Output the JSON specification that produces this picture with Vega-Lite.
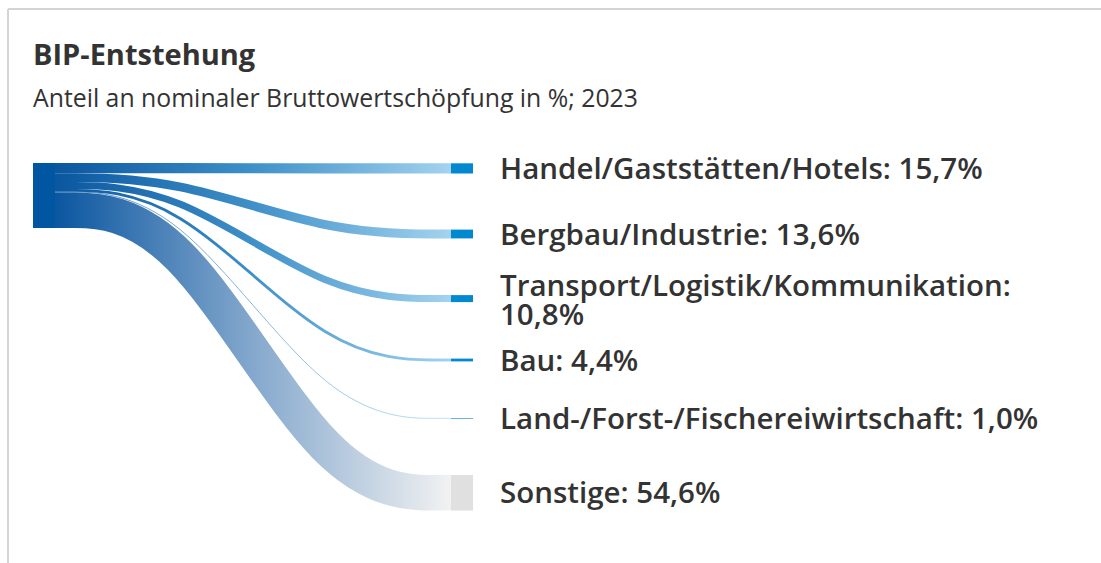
{
  "$schema": "https://vega.github.io/schema/vega-lite/v6.json",
  "width": 1101,
  "height": 433,
  "autosize": {"type": "none"},
  "padding": {"left": 0, "top": 130, "right": 0, "bottom": 0},
  "background": "#ffffff",
  "title": {
    "text": "BIP-Entstehung",
    "subtitle": "Anteil an nominaler Bruttowertschöpfung in %; 2023",
    "anchor": "start",
    "frame": "group",
    "orient": "top",
    "dx": 33,
    "dy": 104,
    "offset": 0,
    "font": "Open Sans",
    "fontSize": 29,
    "fontWeight": 700,
    "color": "#333333",
    "subtitleFont": "Open Sans",
    "subtitleFontSize": 24.8,
    "subtitleFontWeight": 400,
    "subtitleColor": "#333333",
    "subtitlePadding": 16
  },
  "config": {"view": {"stroke": null}},
  "datasets": {
    "frame": [
      {"x": 8, "y": 9, "x2": 1101, "y2": 9},
      {"x": 8, "y": 9, "x2": 8, "y2": 563}
    ],
    "source": [
      {"name": "BIP", "share": 100, "x": 33, "x2": 55, "y": 163, "y2": 228}
    ],
    "flows": [
      {"flow": "Handel", "share": 15.7, "k": 0, "x": 55, "y": 168.1},
      {"flow": "Handel", "share": 15.7, "k": 1, "x": 174, "y": 168.1},
      {"flow": "Handel", "share": 15.7, "k": 2, "x": 332, "y": 168.4},
      {"flow": "Handel", "share": 15.7, "k": 3, "x": 451, "y": 168.4},
      {"flow": "Bergbau", "share": 13.6, "k": 0, "x": 55, "y": 177.6},
      {"flow": "Bergbau", "share": 13.6, "k": 1, "x": 174, "y": 177.6},
      {"flow": "Bergbau", "share": 13.6, "k": 2, "x": 332, "y": 234.0},
      {"flow": "Bergbau", "share": 13.6, "k": 3, "x": 451, "y": 234.0},
      {"flow": "Transport", "share": 10.8, "k": 0, "x": 55, "y": 185.5},
      {"flow": "Transport", "share": 10.8, "k": 1, "x": 174, "y": 185.5},
      {"flow": "Transport", "share": 10.8, "k": 2, "x": 332, "y": 298.6},
      {"flow": "Transport", "share": 10.8, "k": 3, "x": 451, "y": 298.6},
      {"flow": "Bau", "share": 4.4, "k": 0, "x": 55, "y": 190.4},
      {"flow": "Bau", "share": 4.4, "k": 1, "x": 174, "y": 190.4},
      {"flow": "Bau", "share": 4.4, "k": 2, "x": 332, "y": 360.0},
      {"flow": "Bau", "share": 4.4, "k": 3, "x": 451, "y": 360.0},
      {"flow": "Land", "share": 1.0, "k": 0, "x": 55, "y": 192.2},
      {"flow": "Land", "share": 1.0, "k": 1, "x": 174, "y": 192.2},
      {"flow": "Land", "share": 1.0, "k": 2, "x": 332, "y": 418.3},
      {"flow": "Land", "share": 1.0, "k": 3, "x": 451, "y": 418.3},
      {"flow": "Sonstige", "share": 54.6, "k": 0, "x": 55, "y": 210.3},
      {"flow": "Sonstige", "share": 54.6, "k": 1, "x": 174, "y": 210.3},
      {"flow": "Sonstige", "share": 54.6, "k": 2, "x": 332, "y": 492.8},
      {"flow": "Sonstige", "share": 54.6, "k": 3, "x": 451, "y": 492.8}
    ],
    "targets": [
      {"flow": "Handel", "share": 15.7, "kind": "Sektor", "label": "Handel/Gaststätten/Hotels: 15,7%", "ylabel": 168.1, "y": 163.3, "y2": 173.5},
      {"flow": "Bergbau", "share": 13.6, "kind": "Sektor", "label": "Bergbau/Industrie: 13,6%", "ylabel": 234.0, "y": 229.6, "y2": 238.4},
      {"flow": "Transport", "share": 10.8, "kind": "Sektor", "label": "Transport/Logistik/Kommunikation:\n10,8%", "ylabel": 285.3, "y": 295.1, "y2": 302.1},
      {"flow": "Bau", "share": 4.4, "kind": "Sektor", "label": "Bau: 4,4%", "ylabel": 360.3, "y": 358.6, "y2": 361.4},
      {"flow": "Land", "share": 1.0, "kind": "Sektor", "label": "Land-/Forst-/Fischereiwirtschaft: 1,0%", "ylabel": 418.5, "y": 418.0, "y2": 418.6},
      {"flow": "Sonstige", "share": 54.6, "kind": "Sonstige", "label": "Sonstige: 54,6%", "ylabel": 492.6, "y": 475.05, "y2": 510.55}
    ]
  },
  "layer": [
    {
      "data": {"name": "frame"},
      "mark": {"type": "rule", "color": "#d4d4d4", "strokeWidth": 2},
      "encoding": {
        "x": {"field": "x", "type": "quantitative", "axis": null, "scale": {"domain": [0, 1101], "nice": false, "zero": false}},
        "x2": {"field": "x2"},
        "y": {"field": "y", "type": "quantitative", "axis": null, "scale": {"domain": [130, 563], "reverse": true, "nice": false, "zero": false}},
        "y2": {"field": "y2"}
      }
    },
    {
      "data": {"name": "flows"},
      "transform": [{"filter": "datum.flow === 'Sonstige'"}],
      "mark": {"type": "line", "interpolate": "basis", "strokeCap": "butt",
        "stroke": {"gradient": "linear", "stops": [
          {"offset": 0, "color": "#0a56a0"},
          {"offset": 0.5, "color": "#84a8cd"},
          {"offset": 1, "color": "#f2f2f2"}]}},
      "encoding": {
        "x": {"field": "x", "type": "quantitative"},
        "y": {"field": "y", "type": "quantitative"},
        "order": {"field": "k"},
        "strokeWidth": {"field": "share", "type": "quantitative", "scale": {"domain": [0, 100], "range": [0, 65]}, "legend": null}
      }
    },
    {
      "data": {"name": "flows"},
      "transform": [{"filter": "datum.flow !== 'Sonstige' && datum.flow !== 'Handel'"}],
      "mark": {"type": "line", "interpolate": "basis", "strokeCap": "butt",
        "stroke": {"gradient": "linear", "stops": [
          {"offset": 0, "color": "#0a56a0"},
          {"offset": 0.5, "color": "#3f90c8"},
          {"offset": 1, "color": "#a3d3ef"}]}},
      "encoding": {
        "x": {"field": "x", "type": "quantitative"},
        "y": {"field": "y", "type": "quantitative"},
        "detail": {"field": "flow"},
        "order": {"field": "k"},
        "strokeWidth": {"field": "share", "type": "quantitative", "legend": null}
      }
    },
    {
      "data": {"name": "flows"},
      "transform": [{"filter": "datum.flow === 'Handel'"}],
      "mark": {"type": "line", "interpolate": "basis", "strokeCap": "butt",
        "stroke": {"gradient": "linear", "stops": [
          {"offset": 0, "color": "#0a56a0"},
          {"offset": 0.5, "color": "#3f90c8"},
          {"offset": 1, "color": "#a3d3ef"}]}},
      "encoding": {
        "x": {"field": "x", "type": "quantitative"},
        "y": {"field": "y", "type": "quantitative"},
        "order": {"field": "k"},
        "strokeWidth": {"field": "share", "type": "quantitative", "legend": null}
      }
    },
    {
      "data": {"name": "source"},
      "mark": {"type": "rect", "color": "#0056a0"},
      "encoding": {
        "x": {"field": "x", "type": "quantitative"},
        "x2": {"field": "x2"},
        "y": {"field": "y", "type": "quantitative"},
        "y2": {"field": "y2"}
      }
    },
    {
      "data": {"name": "targets"},
      "mark": {"type": "rect"},
      "encoding": {
        "x": {"datum": 451, "type": "quantitative"},
        "x2": {"datum": 473},
        "y": {"field": "y", "type": "quantitative"},
        "y2": {"field": "y2"},
        "color": {"field": "kind", "type": "nominal", "scale": {"domain": ["Sektor", "Sonstige"], "range": ["#0088d1", "#e0e0e0"]}, "legend": null}
      }
    },
    {
      "data": {"name": "targets"},
      "mark": {"type": "text", "align": "left", "baseline": "middle", "lineBreak": "\n", "lineHeight": 28.7, "font": "Open Sans", "fontSize": 29.5, "fontWeight": 600, "color": "#333333", "dy": 1.5},
      "encoding": {
        "x": {"datum": 500, "type": "quantitative"},
        "y": {"field": "ylabel", "type": "quantitative"},
        "text": {"field": "label"}
      }
    }
  ]
}
